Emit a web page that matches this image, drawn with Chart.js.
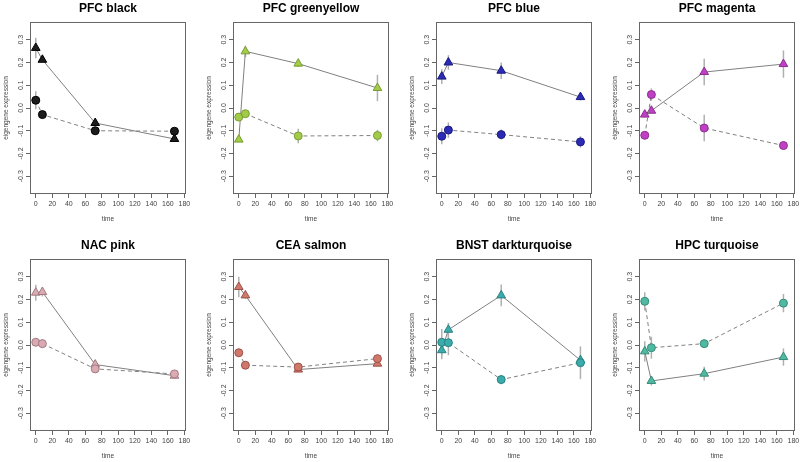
<!DOCTYPE html>
<html>
<head>
<meta charset="utf-8">
<script src="https://cdn.jsdelivr.net/npm/chart.js@4/dist/chart.umd.min.js"></script>
<style>
  html, body { margin: 0; padding: 0; background: #fff; }
  body { width: 800px; height: 462px; position: relative; overflow: hidden; }
  .panel { position: absolute; width: 200px; height: 225px; }
</style>
</head>
<body>
<div id="grid"></div>
<script>
// sampling times (hours)
const timePoints = [0, 8, 72, 168];
const xTicks = [0, 20, 40, 60, 80, 100, 120, 140, 160, 180];
const yTicks = [-0.3, -0.2, -0.1, 0.0, 0.1, 0.2, 0.3];

const panelTitles = ['PFC black', 'PFC greenyellow', 'PFC blue', 'PFC magenta',
                     'NAC pink', 'CEA salmon', 'BNST darkturquoise', 'HPC turquoise'];

// triangles (solid line)
const triangleMeans = [
    [0.264, 0.212, -0.066, -0.136],
    [-0.139, 0.249, 0.195, 0.088],
    [0.138, 0.200, 0.164, 0.048],
    [-0.029, -0.012, 0.158, 0.193],
    [0.230, 0.233, -0.086, -0.135],
    [0.255, 0.218, -0.108, -0.082],
    [-0.023, 0.067, 0.218, -0.067],
    [-0.028, -0.158, -0.126, -0.053]
];
const triangleErrors = [
    [0.045, 0.010, 0.012, 0.008],
    [0.008, 0.025, 0.015, 0.058],
    [0.032, 0.032, 0.036, 0.015],
    [0.012, 0.010, 0.058, 0.060],
    [0.035, 0.020, 0.020, 0.012],
    [0.045, 0.015, 0.008, 0.008],
    [0.040, 0.030, 0.048, 0.020],
    [0.045, 0.020, 0.030, 0.038]
];

// circles (dashed line)
const circleMeans = [
    [0.034, -0.029, -0.100, -0.102],
    [-0.040, -0.025, -0.123, -0.121],
    [-0.124, -0.097, -0.117, -0.149],
    [-0.120, 0.059, -0.088, -0.165],
    [0.012, 0.006, -0.105, -0.127],
    [-0.034, -0.089, -0.097, -0.060],
    [0.012, 0.010, -0.152, -0.078],
    [0.192, -0.012, 0.006, 0.184]
];
const circleErrors = [
    [0.040, 0.008, 0.008, 0.008],
    [0.008, 0.008, 0.032, 0.025],
    [0.035, 0.034, 0.022, 0.025],
    [0.008, 0.027, 0.058, 0.008],
    [0.008, 0.020, 0.010, 0.012],
    [0.008, 0.008, 0.010, 0.018],
    [0.058, 0.055, 0.020, 0.072],
    [0.040, 0.048, 0.018, 0.040]
];

const fillColors = ['#1c1c1c', '#a2cc48', '#2b2bb3', '#c040c4',
                    '#dcaab2', '#d0786c', '#3aacac', '#4fb9a2'];
const edgeColors = ['#000000', '#7a9c32', '#1a1a80', '#8c2c90',
                    '#a07a82', '#9c5048', '#2a8080', '#368a78'];

const FONT = '"Liberation Sans", Arial, Helvetica, sans-serif';
const plotLeft = [30, 233, 436, 639];
const rowTop = [0, 237];

const rPlotPlugin = {
    id: 'rPlot',
    beforeDatasetsDraw(chart) {
        const xs = chart.scales.x, ys = chart.scales.y;
        const ctx = chart.ctx;
        ctx.save();
        ctx.strokeStyle = '#b0b0b0';
        ctx.lineWidth = 1.5;
        chart.data.datasets.forEach(ds => {
            ds.data.forEach((p, i) => {
                const e = ds.errors[i];
                const x = xs.getPixelForValue(p.x);
                ctx.beginPath();
                ctx.moveTo(x, ys.getPixelForValue(p.y + e));
                ctx.lineTo(x, ys.getPixelForValue(p.y - e));
                ctx.stroke();
            });
        });
        ctx.restore();
    },
    afterDraw(chart) {
        const a = chart.chartArea;
        const ys = chart.scales.y;
        const ctx = chart.ctx;
        ctx.save();
        ctx.strokeStyle = '#666';
        ctx.lineWidth = 1;
        ctx.strokeRect(Math.round(a.left) + 0.5, Math.round(a.top) + 0.5,
                       Math.round(a.right - a.left) - 1, Math.round(a.bottom - a.top) - 1);

        // y tick labels, rotated like R's default
        ctx.fillStyle = '#444';
        ctx.font = '7px ' + FONT;
        ctx.textAlign = 'center';
        ctx.textBaseline = 'middle';
        ys.ticks.forEach(t => {
            const y = ys.getPixelForValue(t.value);
            ctx.save();
            ctx.translate(a.left - 9, y);
            ctx.rotate(-Math.PI / 2);
            ctx.fillText(t.value.toFixed(1), 0, 0);
            ctx.restore();
        });

        // axis titles
        ctx.font = '6.5px ' + FONT;
        ctx.save();
        ctx.translate(6, (a.top + a.bottom) / 2);
        ctx.rotate(-Math.PI / 2);
        ctx.fillText('eigengene expression', 0, 0);
        ctx.restore();
        ctx.fillText('time', (a.left + a.right) / 2, 219);

        // main title
        ctx.fillStyle = '#000';
        ctx.font = 'bold 12px ' + FONT;
        ctx.fillText(chart.options.plugins.rPlot.title, (a.left + a.right) / 2, 9);
        ctx.restore();
    }
};

function makePanel(i) {
    const div = document.createElement('div');
    div.className = 'panel';
    div.style.left = (plotLeft[i % 4] - 30) + 'px';
    div.style.top = rowTop[Math.floor(i / 4)] + 'px';
    const canvas = document.createElement('canvas');
    canvas.width = 200;
    canvas.height = 225;
    div.appendChild(canvas);
    document.getElementById('grid').appendChild(div);

    const toPoints = means => timePoints.map((t, k) => ({ x: t, y: means[k] }));

    new Chart(canvas.getContext('2d'), {
        type: 'line',
        data: {
            datasets: [{
                label: 'circle',
                data: toPoints(circleMeans[i]),
                errors: circleErrors[i],
                borderColor: '#808080',
                borderWidth: 1,
                borderDash: [4, 3],
                pointStyle: 'circle',
                pointRadius: 4,
                pointBackgroundColor: fillColors[i],
                pointBorderColor: edgeColors[i],
                pointBorderWidth: 1,
                tension: 0
            }, {
                label: 'triangle',
                data: toPoints(triangleMeans[i]),
                errors: triangleErrors[i],
                borderColor: '#808080',
                borderWidth: 1,
                pointStyle: 'triangle',
                pointRadius: 5,
                pointBackgroundColor: fillColors[i],
                pointBorderColor: edgeColors[i],
                pointBorderWidth: 1,
                tension: 0
            }]
        },
        options: {
            responsive: false,
            animation: false,
            devicePixelRatio: 1,
            layout: { padding: { left: 0, right: 14, top: 22, bottom: 0 } },
            plugins: {
                legend: { display: false },
                tooltip: { enabled: false },
                rPlot: { title: panelTitles[i] }
            },
            scales: {
                x: {
                    type: 'linear',
                    min: -7,
                    max: 182,
                    afterBuildTicks: s => { s.ticks = xTicks.map(v => ({ value: v })); },
                    afterFit: s => { s.height = 31; },
                    border: { display: false },
                    grid: { drawOnChartArea: false, drawTicks: true, tickLength: 4, color: '#666' },
                    ticks: {
                        autoSkip: false,
                        maxRotation: 0,
                        padding: 2,
                        color: '#444',
                        font: { size: 7, family: FONT }
                    }
                },
                y: {
                    type: 'linear',
                    min: -0.378,
                    max: 0.378,
                    afterBuildTicks: s => { s.ticks = yTicks.map(v => ({ value: v })); },
                    afterFit: s => { s.width = 30; },
                    border: { display: false },
                    grid: { drawOnChartArea: false, drawTicks: true, tickLength: 4, color: '#666' },
                    ticks: { display: false }
                }
            }
        },
        plugins: [rPlotPlugin]
    });
}

for (let i = 0; i < panelTitles.length; i++) makePanel(i);
</script>
</body>
</html>
